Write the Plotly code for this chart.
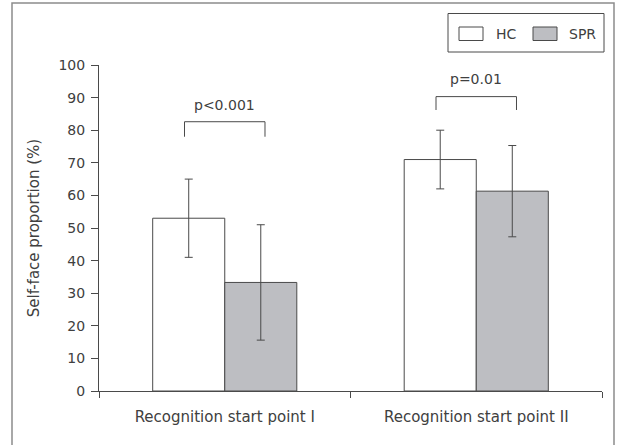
import plotly.graph_objects as go

categories = ["Recognition start point I", "Recognition start point II"]
series_names = ["HC", "SPR"]
hc_values = [53.0, 71.0]
hc_errors = [12.0, 9.0]
spr_values = [33.3, 61.3]
spr_errors = [17.7, 14.0]
y_ticks = [0, 10, 20, 30, 40, 50, 60, 70, 80, 90, 100]
p_labels = ["p<0.001", "p=0.01"]
bracket_tops = [82.6, 90.3]
bracket_legs = [78.0, 86.2]
label_heights = [87.6, 95.6]

FONT = "DejaVu Sans"
TXT = "#404040"
LINE = "#4a4a4a"
COLORS = ["white", "#bdbec2"]

W, H = 618, 445
L, R, T, B = 99, 16, 65, 54
PW, PH = W - L - R, H - T - B


def px(x):
    return (x - L) / PW


def py(y):
    return (H - B - y) / PH


fig = go.Figure()
for name, vals, errs, col in zip(series_names, [hc_values, spr_values],
                                 [hc_errors, spr_errors], COLORS):
    fig.add_trace(go.Bar(
        name=name, x=categories, y=vals,
        marker=dict(color=col, line=dict(color=LINE, width=1)),
        error_y=dict(type="data", array=errs, color=LINE, thickness=1, width=4),
        showlegend=False,
    ))

half = 0.16
for i, (top, leg, lab, ly) in enumerate(zip(bracket_tops, bracket_legs, p_labels, label_heights)):
    fig.add_shape(type="path",
                  path=f"M {i-half},{leg} L {i-half},{top} L {i+half},{top} L {i+half},{leg}",
                  xref="x", yref="y", line=dict(color=LINE, width=1))
    fig.add_annotation(x=i, y=ly, xref="x", yref="y", text=lab, showarrow=False,
                       font=dict(family=FONT, size=14, color=TXT))

# outer frame
fig.add_shape(type="rect", xref="paper", yref="paper",
              x0=px(12), x1=px(614), y0=py(460), y1=py(3),
              line=dict(color="#8c8c8c", width=1.5), fillcolor="rgba(0,0,0,0)", layer="below")

# legend box (drawn)
fig.add_shape(type="rect", xref="paper", yref="paper",
              x0=px(448), x1=px(604), y0=py(52), y1=py(13.5),
              line=dict(color=LINE, width=1), fillcolor="white")
for name, col, sx, tx in zip(series_names, COLORS, [459, 533], [494, 567]):
    fig.add_shape(type="rect", xref="paper", yref="paper",
                  x0=px(sx), x1=px(sx + 24), y0=py(40.5), y1=py(27),
                  line=dict(color=LINE, width=1), fillcolor=col)
    fig.add_annotation(x=px(tx), y=py(33.8), xref="paper", yref="paper", text=name,
                       showarrow=False, xanchor="left", yanchor="middle",
                       font=dict(family=FONT, size=14, color=TXT))

fig.update_layout(
    width=W, height=H,
    margin=dict(l=L, r=R, t=T, b=B, pad=0, autoexpand=False),
    paper_bgcolor="white", plot_bgcolor="white",
    barmode="group", bargap=0.427, bargroupgap=0,
    font=dict(family=FONT, size=14, color=TXT),
    showlegend=False,
    xaxis=dict(showline=True, linecolor=LINE, linewidth=1, ticks="outside",
               tickson="boundaries", ticklen=6, tickcolor=LINE, showgrid=False,
               range=[-0.5, 1.5], ticklabelstandoff=12,
               tickfont=dict(family=FONT, size=15, color=TXT)),
    yaxis=dict(showline=True, linecolor=LINE, linewidth=1, ticks="outside",
               ticklen=7, tickcolor=LINE, showgrid=False, zeroline=False,
               range=[0, 100], tickvals=y_ticks, ticklabelstandoff=3,
               title=dict(text="Self-face proportion (%)", standoff=15,
                          font=dict(family=FONT, size=15, color=TXT)),
               tickfont=dict(family=FONT, size=14, color=TXT)),
)

fig.write_html("out.html", config={"displayModeBar": False},
               post_script="document.body.style.margin='0';document.body.style.overflow='hidden';")
